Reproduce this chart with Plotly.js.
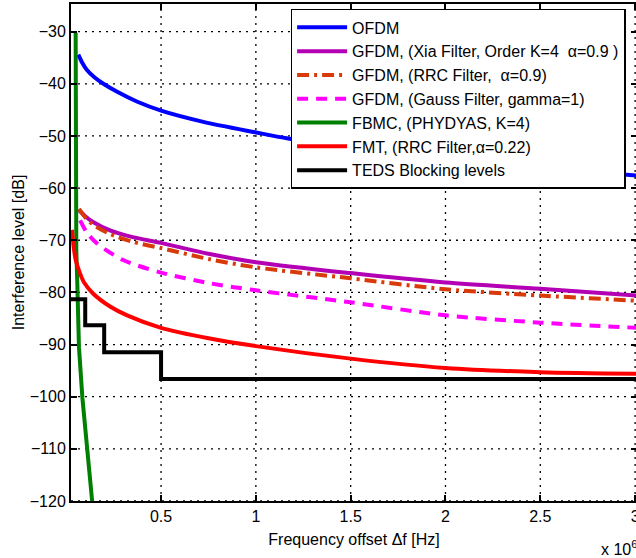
<!DOCTYPE html>
<html>
<head>
<meta charset="utf-8">
<script src="https://cdn.plot.ly/plotly-3.0.1.min.js"></script>
</head>
<body style="margin:0;overflow:hidden;background:#fff">
<div id="chart"></div>
<script>
// Frequency offset in units of 1e6 Hz; interference level in dB
const seriesNames = [
  "OFDM",
  "GFDM, (Xia Filter, Order K=4\u00a0\u00a0\u03b1=0.9 )",
  "GFDM, (RRC Filter,\u00a0\u00a0\u03b1=0.9)",
  "GFDM, (Gauss Filter, gamma=1)",
  "FBMC, (PHYDYAS, K=4)",
  "FMT, (RRC Filter,\u03b1=0.22)",
  "TEDS Blocking levels"
];

const ofdmX = [0.0635, 0.085, 0.108, 0.15, 0.196, 0.266, 0.372, 0.504, 0.723, 0.996, 1.17, 1.5, 2.0, 2.5, 3.01];
const ofdmY = [-34.4, -36.0, -37.3, -38.8, -40.0, -41.5, -43.4, -45.2, -47.3, -49.3, -50.5, -52.3, -54.4, -56.1, -57.6];

const xiaX = [0.067, 0.1, 0.141, 0.231, 0.35, 0.5, 0.75, 1.0, 1.5, 2.0, 2.5, 3.01];
const xiaY = [-64.2, -65.4, -66.5, -68.1, -69.4, -70.5, -72.6, -74.2, -76.3, -78.1, -79.3, -80.6];

const rrcX = [0.067, 0.1, 0.141, 0.231, 0.35, 0.5, 0.75, 1.0, 1.5, 2.0, 2.5, 3.01];
const rrcY = [-64.0, -65.6, -67.0, -68.8, -70.3, -71.5, -73.6, -75.2, -77.3, -79.4, -80.6, -81.6];

const gaussX = [0.073, 0.11, 0.162, 0.3, 0.5, 0.75, 1.0, 1.5, 2.0, 2.5, 3.01];
const gaussY = [-66.2, -68.6, -70.6, -73.8, -76.2, -78.2, -79.6, -81.9, -84.4, -85.8, -86.8];

const fbmcX = [0.0495, 0.0505, 0.053, 0.058, 0.067, 0.085, 0.111, 0.139];
const fbmcY = [-30.2, -60.0, -72.0, -78.0, -90.5, -100.2, -110.4, -121.0];

const fmtX = [0.03, 0.04, 0.05, 0.073, 0.094, 0.141, 0.231, 0.321, 0.5, 0.75, 1.0, 1.5, 2.0, 2.5, 3.01];
const fmtY = [-68.0, -71.5, -73.8, -76.4, -78.1, -80.2, -82.7, -84.4, -86.8, -88.8, -90.3, -92.7, -94.5, -95.3, -95.6];

const tedsX = [0.025, 0.1, 0.2, 0.5, 3.01];
const tedsY = [-81.3, -86.3, -91.5, -96.6, -96.6];

const xTickVals = [0.5, 1, 1.5, 2, 2.5, 3];
const xTickText = ["0.5", "1", "1.5", "2", "2.5", "3"];
const yTickVals = [-120, -110, -100, -90, -80, -70, -60, -50, -40, -30];
const yTickText = ["\u2212120", "\u2212110", "\u2212100", "\u221290", "\u221280", "\u221270", "\u221260", "\u221250", "\u221240", "\u221230"];

const xRange = [0.025, 3.01];
const yRange = [-120, -24.7];

// MATLAB-style dotted grid lines, drawn at the tick values through the axes' scales
const gridStyle = {color: "#000", width: 1.3, dash: "2px,5px"};
const xGrid = {
  x: xTickVals.flatMap(v => [v, v, null]),
  y: xTickVals.flatMap(() => [yRange[0], yRange[1], null]),
  mode: "lines", line: gridStyle, showlegend: false, hoverinfo: "skip"
};
const yGrid = {
  x: yTickVals.flatMap(() => [xRange[0], xRange[1], null]),
  y: yTickVals.flatMap(v => [v, v, null]),
  mode: "lines", line: gridStyle, showlegend: false, hoverinfo: "skip"
};

const traces = [
  xGrid,
  yGrid,
  {x: ofdmX, y: ofdmY, name: seriesNames[0], mode: "lines", line: {color: "#0000ff", width: 4, shape: "spline", smoothing: 0.8}},
  {x: xiaX, y: xiaY, name: seriesNames[1], mode: "lines", line: {color: "#b400b4", width: 4, shape: "spline", smoothing: 0.8}},
  {x: rrcX, y: rrcY, name: seriesNames[2], mode: "lines", line: {color: "#d93a0a", width: 4, dash: "12px,5px,3px,5px", shape: "spline", smoothing: 0.8}},
  {x: gaussX, y: gaussY, name: seriesNames[3], mode: "lines", line: {color: "#ff00ff", width: 4, dash: "11px,8px", shape: "spline", smoothing: 0.8}},
  {x: fbmcX, y: fbmcY, name: seriesNames[4], mode: "lines", line: {color: "#008000", width: 4}},
  {x: fmtX, y: fmtY, name: seriesNames[5], mode: "lines", line: {color: "#ff0000", width: 4, shape: "spline", smoothing: 0.8}},
  {x: tedsX, y: tedsY, name: seriesNames[6], mode: "lines", line: {color: "#000000", width: 4, shape: "hv"}}
];

const fam = "Liberation Sans, Arial, sans-serif";

const layout = {
  width: 640,
  height: 558,
  margin: {l: 71, r: 3, t: 4, b: 57},
  font: {family: fam, size: 16, color: "#000"},
  showlegend: true,
  legend: {
    x: 0.388, y: 0.99, xanchor: "left", yanchor: "top",
    bgcolor: "#fff", bordercolor: "#000", borderwidth: 1.5,
    font: {family: fam, size: 16, color: "#000"},
    itemwidth: 50
  },
  xaxis: {
    range: xRange,
    tickmode: "array", tickvals: xTickVals, ticktext: xTickText,
    ticks: "inside", ticklen: 6, tickwidth: 2, tickcolor: "#000",
    showline: true, linecolor: "#000", linewidth: 2, mirror: "ticks",
    showgrid: false,
    zeroline: false,
    tickfont: {family: fam, size: 16, color: "#000"},
    title: {text: "Frequency offset \u0394f [Hz]", font: {family: fam, size: 16, color: "#000"}, standoff: 10}
  },
  yaxis: {
    range: yRange,
    tickmode: "array", tickvals: yTickVals, ticktext: yTickText,
    ticks: "inside", ticklen: 6, tickwidth: 2, tickcolor: "#000",
    showline: true, linecolor: "#000", linewidth: 2, mirror: "ticks",
    showgrid: false,
    zeroline: false,
    tickfont: {family: fam, size: 16, color: "#000"},
    title: {text: "Interference level [dB]", font: {family: fam, size: 16, color: "#000"}, standoff: 1}
  },
  annotations: [
    {xref: "paper", yref: "paper", x: 0.933, y: -0.095, xanchor: "left", yanchor: "middle",
     text: "x 10<sup>6</sup>", showarrow: false, font: {family: fam, size: 16, color: "#000"}}
  ]
};

Plotly.newPlot("chart", traces, layout, {displayModeBar: false});
</script>
</body>
</html>
